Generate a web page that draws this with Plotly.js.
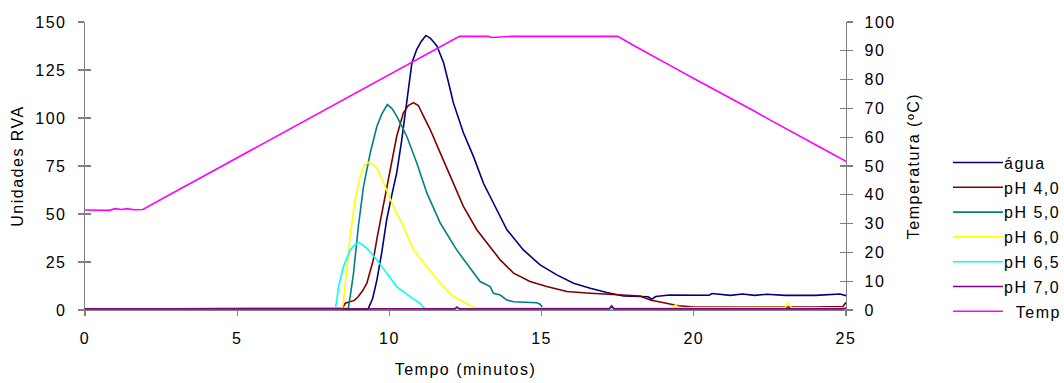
<!DOCTYPE html>
<html>
<head>
<meta charset="utf-8">
<script src="https://cdn.plot.ly/plotly-3.0.1.min.js"></script>
<style>
html,body{margin:0;padding:0;background:#fff;}
#chart{width:1064px;height:383px;}
#chart .main-svg text{letter-spacing:1.5px;}
#chart g.legend, #chart g.legend *{clip-path:none !important;}
#chart g.legend .legendlines path{transform:translateX(-19.3px) scaleX(1.667);}
</style>
</head>
<body>
<div id="chart"></div>
<script>
// ---- data (RVA units vs minutes) ----
const aguaT = [0, 9.3, 9.45, 9.59, 9.75, 9.91, 10.08, 10.24, 10.4, 10.57, 10.74, 10.9, 11.05, 11.2, 11.35, 11.56, 11.78, 11.95, 12.1, 12.43, 12.76, 13.09, 13.42, 13.86, 14.4, 14.95, 15.5, 16.05, 16.6, 17.14, 17.69, 18.2, 18.5, 18.62, 18.75, 19.2, 19.55, 20.0, 20.5, 20.6, 21.2, 21.6, 22.0, 22.4, 23.0, 24.0, 24.5, 24.8, 25.0];
const aguaV = [0.5, 0.6, 6.0, 15.7, 30.0, 47.0, 60.0, 71.4, 88.0, 108.0, 128.8, 135.8, 140.0, 143.0, 141.5, 137.5, 128.8, 118.0, 108.0, 92.3, 80.0, 66.0, 55.7, 41.8, 31.3, 23.5, 18.3, 13.9, 11.3, 9.1, 7.3, 7.0, 6.9, 5.6, 7.0, 7.8, 7.8, 7.6, 7.7, 8.6, 7.6, 8.3, 7.6, 8.2, 7.6, 7.6, 7.9, 8.3, 7.5];

const ph40T = [0, 8.45, 8.55, 8.71, 8.85, 8.98, 9.12, 9.26, 9.47, 9.6, 9.75, 10.02, 10.24, 10.46, 10.62, 10.79, 10.95, 11.12, 11.34, 11.67, 12.0, 12.43, 12.87, 13.31, 13.64, 14.08, 14.62, 15.17, 15.83, 16.6, 17.58, 18.24, 18.57, 18.8, 19.12, 19.5, 20.0, 22.0, 24.0, 24.9, 25.0];
const ph40V = [0.5, 0.8, 3.5, 4.4, 5.0, 7.0, 10.0, 14.0, 26.0, 38.0, 50.5, 73.0, 90.5, 102.7, 106.5, 108.0, 106.5, 101.0, 94.0, 81.8, 69.6, 54.0, 41.8, 33.0, 26.1, 19.2, 14.8, 12.2, 9.6, 8.7, 7.8, 7.3, 5.2, 4.5, 3.6, 2.2, 1.6, 1.5, 1.5, 1.8, 4.0];

const ph50T = [0, 8.65, 8.72, 8.82, 8.98, 9.15, 9.37, 9.59, 9.75, 9.93, 10.08, 10.24, 10.57, 10.9, 11.23, 11.67, 12.21, 12.76, 12.98, 13.31, 13.42, 13.64, 13.86, 14.08, 14.84, 14.95, 15.05, 25.0];
const ph50V = [0.5, 0.8, 8.0, 19.0, 43.5, 64.4, 81.8, 95.7, 102.0, 107.0, 105.0, 101.0, 90.5, 76.6, 61.0, 45.3, 31.3, 19.2, 14.8, 12.2, 8.7, 7.8, 5.2, 4.3, 3.8, 3.0, 0.8, 0.8];

const ph60T = [0, 8.45, 8.5, 8.6, 8.71, 8.87, 9.04, 9.18, 9.31, 9.45, 9.59, 9.86, 10.13, 10.46, 10.79, 11.23, 11.67, 12.1, 12.54, 12.76, 12.9, 19.3, 19.4, 19.5, 23.0, 23.1, 23.2, 25.0];
const ph60V = [0.5, 0.6, 6.0, 20.9, 38.3, 57.4, 69.6, 75.5, 76.9, 76.0, 74.0, 64.4, 54.0, 43.5, 31.3, 22.6, 13.9, 7.0, 3.5, 1.4, 1.2, 1.2, 2.8, 1.2, 1.3, 3.6, 1.3, 1.2];

const ph65T = [0, 8.22, 8.27, 8.33, 8.49, 8.71, 8.86, 9.01, 9.26, 9.59, 9.91, 10.24, 10.68, 11.01, 11.12, 11.2, 25.0];
const ph65V = [0.5, 0.6, 5.0, 12.2, 22.6, 31.3, 34.0, 35.1, 32.2, 26.1, 19.2, 12.2, 7.0, 3.5, 1.4, 0.6, 0.6];

const ph70T = [0, 12.15, 12.22, 12.3, 17.22, 17.3, 17.38, 24.9, 25.0];
const ph70V = [0.6, 0.6, 1.6, 0.6, 0.6, 2.2, 0.6, 0.6, 1.0];

// ---- temperature (°C, right axis) ----
const tempT = [0, 0.5, 0.8, 1.0, 1.2, 1.4, 1.6, 1.9, 2.5, 3, 3.5, 4, 4.5, 5, 5.5, 6, 6.5, 7, 7.5, 8, 8.5, 9, 9.5, 10, 10.5, 11, 11.5, 12, 12.3, 12.8, 13.25, 13.35, 14, 15, 16, 17, 17.5, 18, 18.5, 19, 19.5, 20, 20.5, 21, 21.5, 22, 22.5, 23, 23.5, 24, 24.5, 25];
const tempV = [34.7, 34.8, 34.6, 35.2, 34.9, 35.2, 34.8, 34.9, 38.5, 41.3, 44.2, 47.1, 50.0, 52.9, 55.8, 58.7, 61.5, 64.4, 67.3, 70.2, 73.1, 76.0, 78.9, 81.7, 84.6, 87.5, 90.4, 93.3, 95.0, 95.0, 95.0, 94.6, 95.0, 95.0, 95.0, 95.0, 95.0, 92.0, 89.0, 86.2, 83.3, 80.4, 77.6, 74.6, 71.8, 69.0, 66.0, 63.2, 60.3, 57.4, 54.5, 51.6];

const names = ['água', 'pH 4,0', 'pH 5,0', 'pH 6,0', 'pH 6,5', 'pH 7,0', '\u00a0\u00a0Temp'];
const colors = ['#000080', '#800000', '#008080', '#FFFF00', '#00FFFF', '#800080', '#FF00FF'];
const series = [[aguaT, aguaV], [ph40T, ph40V], [ph50T, ph50V], [ph60T, ph60V], [ph65T, ph65V], [ph70T, ph70V], [tempT, tempV]];

const traces = series.map((s, i) => ({
  type: 'scatter', mode: 'lines', x: s[0], y: s[1], name: names[i],
  legendgroup: 'g' + i,
  yaxis: i === 6 ? 'y2' : 'y',
  line: {color: colors[i], width: 1.6},
  hoverinfo: 'skip'
}));
// helper (empty) traces so the inner tick axes are drawn
traces.push({type: 'scatter', mode: 'lines', x: [null], y: [null], yaxis: 'y3', showlegend: false, hoverinfo: 'skip'});
traces.push({type: 'scatter', mode: 'lines', x: [null], y: [null], yaxis: 'y4', showlegend: false, hoverinfo: 'skip'});

const font = {family: 'Liberation Sans, Arial, sans-serif', size: 16, color: '#000'};
const axisCommon = {showgrid: false, zeroline: false, showline: true, linecolor: '#808080', linewidth: 1.3,
  ticks: 'outside', tickcolor: '#808080', tickwidth: 1.3, ticklen: 6, tickfont: font, automargin: false};

const layout = {
  width: 1064, height: 383,
  margin: {l: 85, r: 218, t: 22, b: 73, autoexpand: false},
  paper_bgcolor: '#fff', plot_bgcolor: '#fff',
  font: font,
  showlegend: true,
  legend: {xref: 'container', yref: 'container', x: 0.906, y: 0.381, xanchor: 'left', yanchor: 'middle', font: font,
    traceorder: 'grouped', tracegroupgap: 1, bgcolor: 'rgba(0,0,0,0)', itemwidth: 30},
  xaxis: Object.assign({}, axisCommon, {range: [0, 25], dtick: 5, tick0: 0, ticklen: 5, ticklabelstandoff: 8,
    title: {text: 'Tempo (minutos)', font: font, standoff: 18}}),
  yaxis: Object.assign({}, axisCommon, {range: [0, 150], dtick: 25, tick0: 0, ticklabelstandoff: 8,
    title: {text: 'Unidades RVA', font: font, standoff: 12}}),
  yaxis2: Object.assign({}, axisCommon, {range: [0, 100], dtick: 10, tick0: 0, overlaying: 'y', side: 'right', anchor: 'x', ticklabelstandoff: 8,
    title: {text: 'Temperatura (ºC)', font: font, standoff: 17}}),
  yaxis3: {range: [0, 150], dtick: 25, tick0: 0, overlaying: 'y', side: 'left', anchor: 'x', ticks: 'inside', ticklen: 6, tickwidth: 1.3, tickcolor: '#808080',
    showticklabels: false, showline: false, showgrid: false, zeroline: false},
  yaxis4: {range: [0, 100], dtick: 10, tick0: 0, overlaying: 'y', side: 'right', anchor: 'x', ticks: 'inside', ticklen: 6, tickwidth: 1.3, tickcolor: '#808080',
    showticklabels: false, showline: false, showgrid: false, zeroline: false}
};

Plotly.newPlot('chart', traces, layout, {displayModeBar: false, staticPlot: true});
</script>
</body>
</html>
